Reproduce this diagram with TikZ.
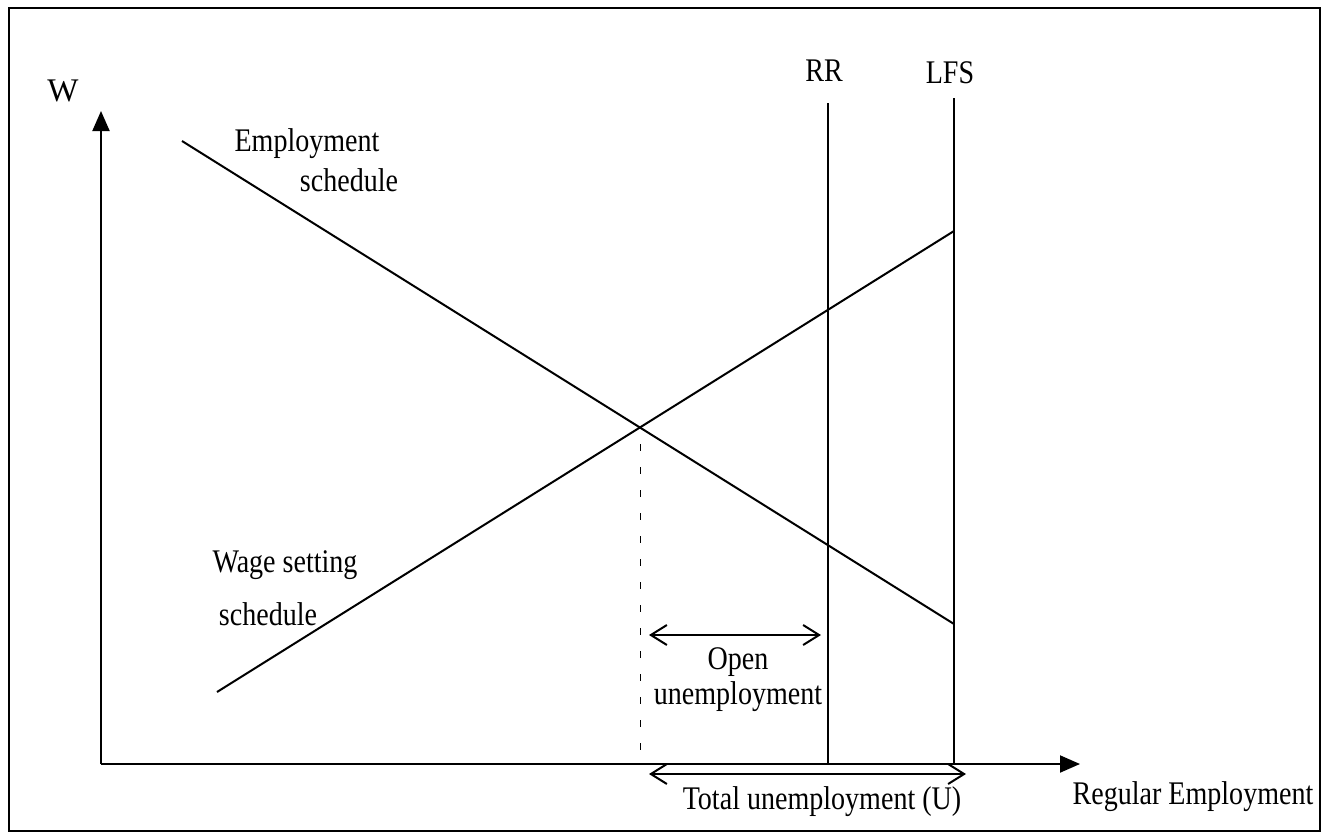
\documentclass[tikz,border=0pt]{standalone}
\usepackage{fontspec}
\setmainfont{Liberation Serif}[FakeStretch=0.85]
\newfontfamily\wfont{Liberation Serif}
\usetikzlibrary{arrows.meta}
\begin{document}
\begin{tikzpicture}[x=1pt,y=-1pt,line width=2pt,
  lbl/.style={font=\fontsize{33}{35}\selectfont,inner sep=0pt,align=center},
  axisarrow/.style={-{Triangle[length=20pt,width=17pt]}},
  spanarrow/.style={{Straight Barb[length=16pt,width=20pt]}-{Straight Barb[length=16pt,width=20pt]}},
  guide/.style={line width=1pt,dash pattern=on 7pt off 16pt}]
\useasboundingbox (0,0) rectangle (1326,839);
\draw[line width=2.5pt] (9,8) rectangle (1320,831);
% coordinates
\coordinate (O) at (101,764);
\coordinate (ytip) at (101,111);
\coordinate (xtip) at (1080,764);
\coordinate (RRtop) at (828,103);
\coordinate (RRbot) at (828,764);
\coordinate (LFStop) at (954,98);
\coordinate (LFSbot) at (954,764);
\coordinate (E1) at (182,141);
\coordinate (E2) at (954,624);
\coordinate (W1) at (217,692);
\coordinate (W2) at (954,231);
\coordinate (X) at (640,444);
\coordinate (Xb) at (640,764);
\coordinate (oa) at (649,635);
\coordinate (ob) at (821,635);
\coordinate (ta) at (649,774);
\coordinate (tb) at (966,774);
% axes
\draw[axisarrow] (O) -- (ytip);
\draw[axisarrow] (O) -- (xtip);
% verticals
\draw (RRbot) -- (RRtop);
\draw (LFSbot) -- (LFStop);
% schedules
\draw (E1) -- (E2);
\draw (W1) -- (W2);
% guide
\draw[guide] (X) -- (Xb);
% spans
\draw[spanarrow] (oa) -- (ob);
\draw[spanarrow] (ta) -- (tb);
% labels
\node[lbl,font=\wfont\fontsize{33}{35}\selectfont] (lW) at (63,91) {W};
\node[lbl] (lRR) at (824,71) {RR};
\node[lbl] (lLFS) at (950,73) {LFS};
\node[lbl] (lE1) at (307,144) {Employment};
\node[lbl] (lE2) at (349,180) {schedule};
\node[lbl] (lW1) at (285,565) {Wage setting};
\node[lbl] (lW2) at (268,614) {schedule};
\node[lbl] (lOpen) at (738,680) {Open\\unemployment};
\node[lbl] (lTot) at (822,802) {Total unemployment (U)};
\node[lbl] (lReg) at (1193,797) {Regular Employment};
\end{tikzpicture}
\end{document}
